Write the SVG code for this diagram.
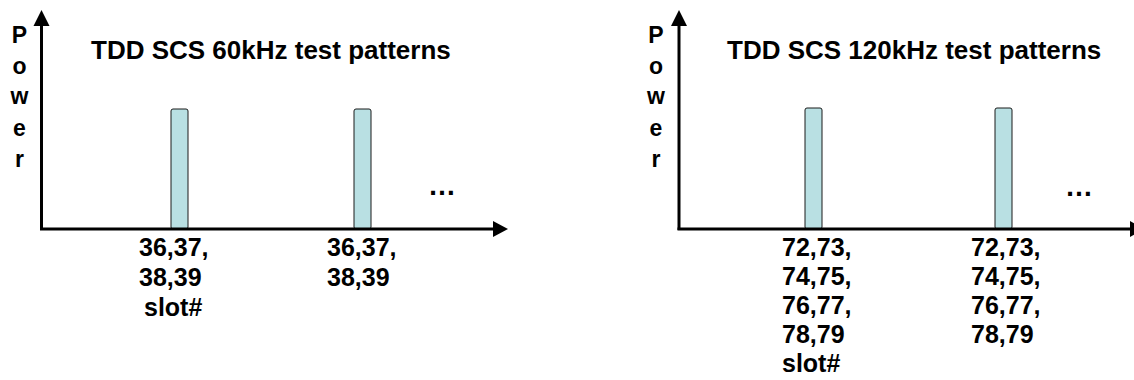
<svg xmlns="http://www.w3.org/2000/svg" width="1134" height="380" viewBox="0 0 1134 380">
<style>
text{font-family:"Liberation Sans",Arial,sans-serif;font-weight:bold;fill:#000}
.title{font-size:26px}
.lbl{font-size:25px}
.pw{font-size:23px;text-anchor:middle}
.dots{font-size:28px}
.bar{fill:#b9e0e3;stroke:#1a1a1a;stroke-width:1}
.ax{stroke:#000;stroke-width:3;fill:none}
.ah{fill:#000}
</style>
<rect width="1134" height="380" fill="#fff"/>
<g id="left-panel">
  <g id="left-bar-1"><rect class="bar" x="171" y="109" width="17" height="120" rx="2"/></g>
  <g id="left-bar-2"><rect class="bar" x="354" y="109" width="17" height="120" rx="2"/></g>
  <g id="left-title"><text class="title" x="91" y="59">TDD SCS 60kHz test patterns</text></g>
  <g id="left-ylabel">
    <text class="pw" x="19.5" y="43">P</text>
    <text class="pw" x="19.5" y="74">o</text>
    <text class="pw" x="19.5" y="104">w</text>
    <text class="pw" x="19.5" y="136">e</text>
    <text class="pw" x="19.5" y="167">r</text>
  </g>
  <g id="left-label-1">
    <text class="lbl" x="139" y="256">36,37,</text>
    <text class="lbl" x="139" y="286">38,39</text>
    <text class="lbl" x="144" y="316">slot#</text>
  </g>
  <g id="left-label-2">
    <text class="lbl" x="327" y="256">36,37,</text>
    <text class="lbl" x="327" y="286">38,39</text>
  </g>
  <g id="left-dots"><text class="dots" x="428" y="195">…</text></g>
</g>
<g id="right-panel">
  <g id="right-bar-1"><rect class="bar" x="805" y="108" width="17" height="121" rx="2"/></g>
  <g id="right-bar-2"><rect class="bar" x="995" y="108" width="17" height="121" rx="2"/></g>
  <g id="right-title"><text class="title" x="727" y="59">TDD SCS 120kHz test patterns</text></g>
  <g id="right-ylabel">
    <text class="pw" x="656" y="43">P</text>
    <text class="pw" x="656" y="74">o</text>
    <text class="pw" x="656" y="104">w</text>
    <text class="pw" x="656" y="136">e</text>
    <text class="pw" x="656" y="167">r</text>
  </g>
  <g id="right-label-1">
    <text class="lbl" x="782" y="256">72,73,</text>
    <text class="lbl" x="782" y="285">74,75,</text>
    <text class="lbl" x="782" y="314">76,77,</text>
    <text class="lbl" x="782" y="343">78,79</text>
    <text class="lbl" x="782" y="372">slot#</text>
  </g>
  <g id="right-label-2">
    <text class="lbl" x="971" y="256">72,73,</text>
    <text class="lbl" x="971" y="285">74,75,</text>
    <text class="lbl" x="971" y="314">76,77,</text>
    <text class="lbl" x="971" y="343">78,79</text>
  </g>
  <g id="right-dots"><text class="dots" x="1065" y="196">…</text></g>
</g>
<g id="connectors">
  <line class="ax" x1="41.5" y1="230" x2="41.5" y2="24"/>
  <polygon class="ah" points="41.5,10 33.5,26 49.5,26"/>
  <line class="ax" x1="40" y1="229" x2="495" y2="229"/>
  <polygon class="ah" points="508,229 493,221 493,237"/>
  <line class="ax" x1="679" y1="230" x2="679" y2="24"/>
  <polygon class="ah" points="679,10 671,26 687,26"/>
  <line class="ax" x1="677.5" y1="229" x2="1132" y2="229"/>
  <polygon class="ah" points="1145,229 1130,221 1130,237"/>
</g>
</svg>
